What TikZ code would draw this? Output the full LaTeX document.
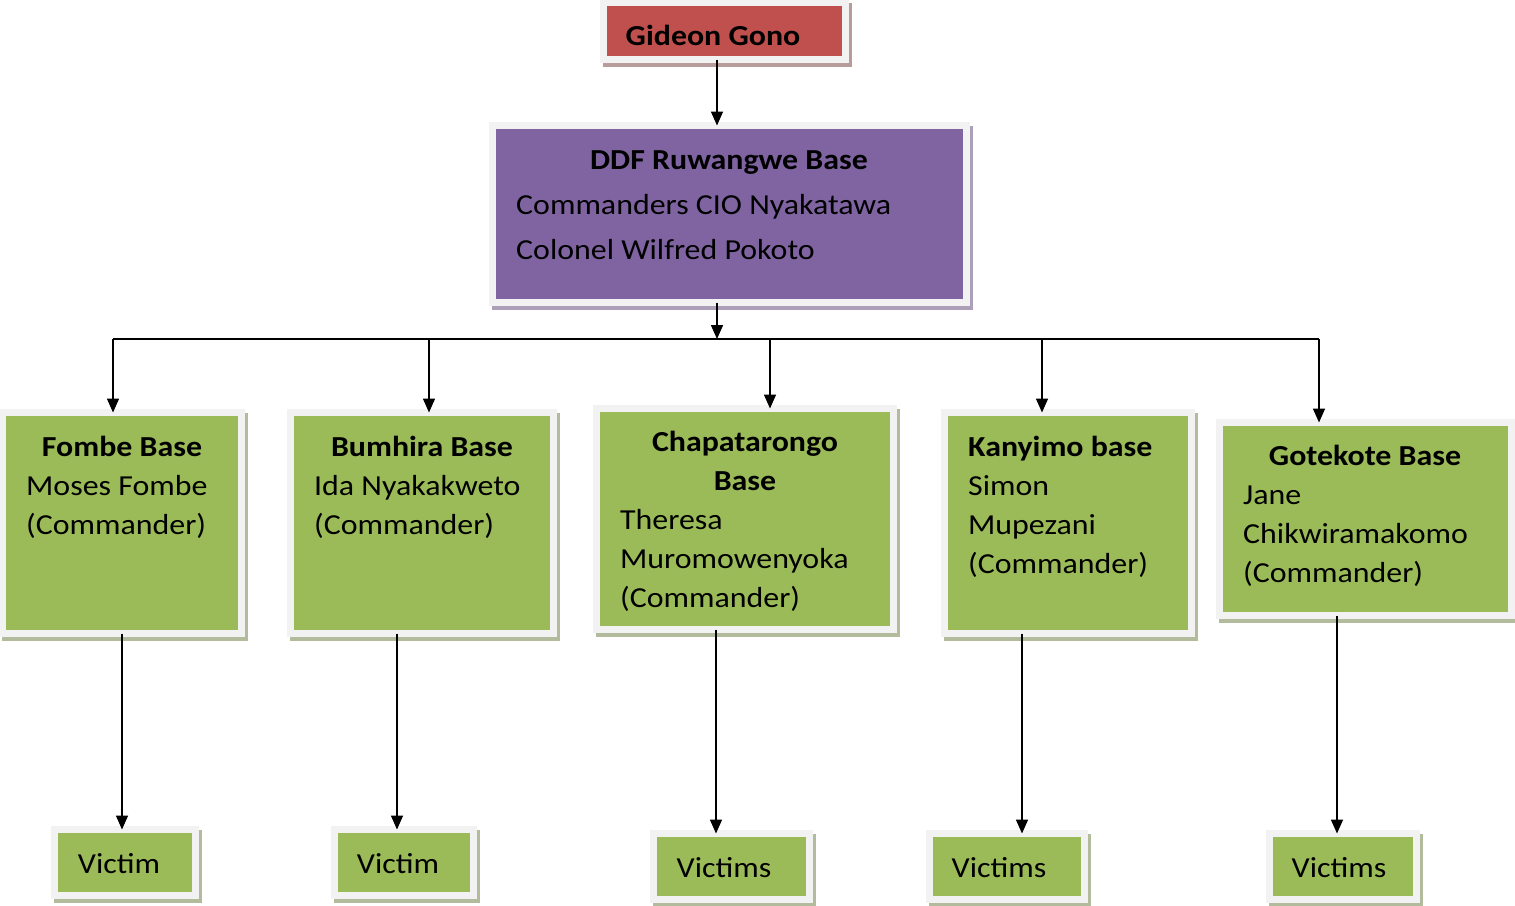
\documentclass[tikz,border=0pt]{standalone}
\usepackage{fontspec}
\setmainfont{Carlito}[FakeStretch=1.1]
\usetikzlibrary{shadows,arrows.meta}
\definecolor{framegray}{HTML}{F2F2F2}
\definecolor{cred}{HTML}{C0504D}
\definecolor{cpurple}{HTML}{8064A2}
\definecolor{cgreen}{HTML}{9BBB59}
\definecolor{redshadow}{HTML}{B89C9C}
\definecolor{purpleshadow}{HTML}{ABA0B8}
\definecolor{greenshadow}{HTML}{B2BC9C}
\tikzset{
  frame/.style={draw=framegray, line width=7pt, inner sep=0pt, outer sep=0pt, anchor=north west},
  redbox/.style={frame, fill=cred, general shadow={fill=redshadow, draw=redshadow, line width=7pt, shadow xshift=3pt, shadow yshift=-4pt}},
  purplebox/.style={frame, fill=cpurple, general shadow={fill=purpleshadow, draw=purpleshadow, line width=7pt, shadow xshift=3pt, shadow yshift=-4pt}},
  greenbox/.style={frame, fill=cgreen, general shadow={fill=greenshadow, draw=greenshadow, line width=7pt, shadow xshift=3pt, shadow yshift=-4pt}},
  txt/.style={anchor=base west, inner sep=0pt, font=\fontsize{29}{35}\selectfont},
  ctxt/.style={txt, anchor=base},
  btxt/.style={ctxt, font=\fontsize{29}{35}\selectfont\bfseries},
  bltxt/.style={txt, font=\fontsize{29}{35}\selectfont\bfseries},
  arr/.style={-{Triangle[length=14pt,width=12pt]}, line width=1.6pt},
  bus/.style={line width=1.6pt}
}
\begin{document}
\begin{tikzpicture}[x=1pt,y=-1pt]
\useasboundingbox (0,0) rectangle (1515,905);
% boxes
\node[redbox, minimum width=242pt, minimum height=57pt] (gono) at (603.5,2.5) {};
\node[purplebox, minimum width=474pt, minimum height=177pt] (ddf) at (492.5,125.5) {};
\node[greenbox, minimum width=239pt, minimum height=221pt] (fombe) at (2.5,412.5) {};
\node[greenbox, minimum width=263pt, minimum height=221pt] (bumhira) at (290.5,412.5) {};
\node[greenbox, minimum width=297pt, minimum height=221pt] (chapa) at (596.5,408.5) {};
\node[greenbox, minimum width=247pt, minimum height=221pt] (kanyimo) at (944.5,412.5) {};
\node[greenbox, minimum width=292pt, minimum height=193pt] (gotekote) at (1219.5,422.5) {};
\node[greenbox, minimum width=141pt, minimum height=66pt] (v1) at (54.5,829.5) {};
\node[greenbox, minimum width=139pt, minimum height=66pt] (v2) at (334.5,829.5) {};
\node[greenbox, minimum width=156pt, minimum height=66pt] (v3) at (653.5,833.5) {};
\node[greenbox, minimum width=155pt, minimum height=66pt] (v4) at (929.5,833.5) {};
\node[greenbox, minimum width=147pt, minimum height=66pt] (v5) at (1269.5,833.5) {};
% texts
\node[btxt] (tgono) at (713,45) {Gideon Gono};
\node[btxt] (tddf) at (729,169) {DDF Ruwangwe Base};
\node[txt] (tddf2) at (516,214) {Commanders CIO Nyakatawa};
\node[txt] (tddf3) at (516,259) {Colonel Wilfred Pokoto};
\node[btxt] (tf1) at (122,456) {Fombe Base};
\node[txt] (tf2) at (26,495) {Moses Fombe};
\node[txt] (tf3) at (26,534) {(Commander)};
\node[btxt] (tb1) at (422,456) {Bumhira Base};
\node[txt] (tb2) at (314,495) {Ida Nyakakweto};
\node[txt] (tb3) at (314,534) {(Commander)};
\node[btxt] (tc1) at (745,451) {Chapatarongo};
\node[btxt] (tc2) at (745,490) {Base};
\node[txt] (tc3) at (620,529) {Theresa};
\node[txt] (tc4) at (620,568) {Muromowenyoka};
\node[txt] (tc5) at (620,607) {(Commander)};
\node[bltxt] (tk1) at (968,456) {Kanyimo base};
\node[txt] (tk2) at (968,495) {Simon};
\node[txt] (tk3) at (968,534) {Mupezani};
\node[txt] (tk4) at (968,573) {(Commander)};
\node[btxt] (tg1) at (1365,465) {Gotekote Base};
\node[txt] (tg2) at (1243,504) {Jane};
\node[txt] (tg3) at (1243,543) {Chikwiramakomo};
\node[txt] (tg4) at (1243,582) {(Commander)};
\node[ctxt] (tv1) at (119,873) {Victim};
\node[ctxt] (tv2) at (398,873) {Victim};
\node[ctxt] (tv3) at (724,877) {Victims};
\node[ctxt] (tv4) at (999,877) {Victims};
\node[ctxt] (tv5) at (1339,877) {Victims};
% connector coordinates
\coordinate (top) at (717,0);
\coordinate (b0) at (717,339);
\coordinate (b1) at (113,339);
\coordinate (b2) at (429,339);
\coordinate (b3) at (770,339);
\coordinate (b4) at (1042,339);
\coordinate (b5) at (1319,339);
\coordinate (l1) at (122,0);
\coordinate (l2) at (397,0);
\coordinate (l3) at (716,0);
\coordinate (l4) at (1022,0);
\coordinate (l5) at (1337,0);
% connectors
\draw[arr] (top |- gono.south) -- (top |- ddf.north);
\draw[arr] (top |- ddf.south) -- (b0);
\draw[bus] (b1) -- (b5);
\draw[arr] (b1) -- (b1 |- fombe.north);
\draw[arr] (b2) -- (b2 |- bumhira.north);
\draw[arr] (b3) -- (b3 |- chapa.north);
\draw[arr] (b4) -- (b4 |- kanyimo.north);
\draw[arr] (b5) -- (b5 |- gotekote.north);
\draw[arr] (l1 |- fombe.south) -- (l1 |- v1.north);
\draw[arr] (l2 |- bumhira.south) -- (l2 |- v2.north);
\draw[arr] (l3 |- chapa.south) -- (l3 |- v3.north);
\draw[arr] (l4 |- kanyimo.south) -- (l4 |- v4.north);
\draw[arr] (l5 |- gotekote.south) -- (l5 |- v5.north);
\end{tikzpicture}
\end{document}
